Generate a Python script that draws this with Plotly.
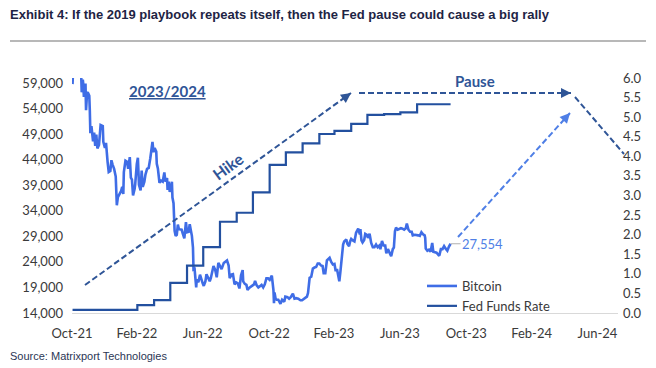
import plotly.graph_objects as go

# ---------------- data ----------------
btc_dates = [
    "2021-11-01", "2021-11-02", "2021-11-05", "2021-11-08", "2021-11-10", "2021-11-12", "2021-11-15",
    "2021-11-17", "2021-11-18", "2021-11-19", "2021-11-20", "2021-11-21", "2021-11-22", "2021-11-23",
    "2021-11-25", "2021-11-26", "2021-11-28", "2021-11-30", "2021-12-02", "2021-12-03", "2021-12-04",
    "2021-12-06", "2021-12-09", "2021-12-11", "2021-12-13", "2021-12-15", "2021-12-17", "2021-12-20",
    "2021-12-23", "2021-12-27", "2021-12-28", "2021-12-31",
    "2022-01-02", "2022-01-05", "2022-01-07", "2022-01-10", "2022-01-12", "2022-01-14", "2022-01-17",
    "2022-01-20", "2022-01-21", "2022-01-22", "2022-01-24", "2022-01-27", "2022-01-30", "2022-02-01",
    "2022-02-03", "2022-02-04", "2022-02-07", "2022-02-10", "2022-02-12", "2022-02-15", "2022-02-17",
    "2022-02-19", "2022-02-21", "2022-02-24", "2022-02-25", "2022-02-28", "2022-03-02", "2022-03-04",
    "2022-03-07", "2022-03-09", "2022-03-11", "2022-03-14", "2022-03-16", "2022-03-19", "2022-03-22",
    "2022-03-25", "2022-03-28", "2022-03-29", "2022-03-31", "2022-04-02", "2022-04-05", "2022-04-06",
    "2022-04-08", "2022-04-11", "2022-04-14", "2022-04-17", "2022-04-20", "2022-04-22", "2022-04-25",
    "2022-04-26", "2022-04-28", "2022-04-30", "2022-05-02", "2022-05-04", "2022-05-05", "2022-05-07",
    "2022-05-09", "2022-05-11", "2022-05-13", "2022-05-15", "2022-05-17", "2022-05-19", "2022-05-22",
    "2022-05-24", "2022-05-27", "2022-05-30", "2022-06-01", "2022-06-04", "2022-06-06", "2022-06-08",
    "2022-06-10", "2022-06-12", "2022-06-13", "2022-06-15", "2022-06-16", "2022-06-18", "2022-06-19",
    "2022-06-22", "2022-06-25", "2022-06-28", "2022-06-30", "2022-07-02", "2022-07-05", "2022-07-07",
    "2022-07-10", "2022-07-13", "2022-07-15", "2022-07-18", "2022-07-20", "2022-07-23", "2022-07-26",
    "2022-07-29", "2022-08-01", "2022-08-04", "2022-08-08", "2022-08-11", "2022-08-14", "2022-08-17",
    "2022-08-19", "2022-08-22", "2022-08-25", "2022-08-28", "2022-08-31", "2022-09-03", "2022-09-06",
    "2022-09-09", "2022-09-12", "2022-09-13", "2022-09-16", "2022-09-19", "2022-09-21", "2022-09-24",
    "2022-09-27", "2022-09-30", "2022-10-03", "2022-10-05", "2022-10-08", "2022-10-11", "2022-10-14",
    "2022-10-17", "2022-10-20", "2022-10-23", "2022-10-26", "2022-10-29", "2022-11-01", "2022-11-05",
    "2022-11-08", "2022-11-09", "2022-11-10", "2022-11-12", "2022-11-14", "2022-11-17", "2022-11-21",
    "2022-11-24", "2022-11-28", "2022-11-30", "2022-12-04", "2022-12-07", "2022-12-10", "2022-12-14",
    "2022-12-17", "2022-12-20", "2022-12-24", "2022-12-28", "2022-12-31",
    "2023-01-03", "2023-01-06", "2023-01-09", "2023-01-11", "2023-01-13", "2023-01-14", "2023-01-17",
    "2023-01-20", "2023-01-23", "2023-01-26", "2023-01-29", "2023-02-01", "2023-02-04", "2023-02-07",
    "2023-02-09", "2023-02-12", "2023-02-15", "2023-02-17", "2023-02-20", "2023-02-23", "2023-02-26",
    "2023-03-01", "2023-03-03", "2023-03-06", "2023-03-09", "2023-03-10", "2023-03-12", "2023-03-14",
    "2023-03-17", "2023-03-19", "2023-03-21", "2023-03-23", "2023-03-25", "2023-03-28", "2023-03-30",
    "2023-04-01", "2023-04-04", "2023-04-07", "2023-04-10", "2023-04-12", "2023-04-14", "2023-04-17",
    "2023-04-18", "2023-04-20", "2023-04-22", "2023-04-25", "2023-04-27", "2023-04-30", "2023-05-02",
    "2023-05-05", "2023-05-08", "2023-05-11", "2023-05-14", "2023-05-17", "2023-05-20", "2023-05-23",
    "2023-05-25", "2023-05-28", "2023-05-31", "2023-06-03", "2023-06-05", "2023-06-08", "2023-06-10",
    "2023-06-14", "2023-06-17", "2023-06-19", "2023-06-21", "2023-06-23", "2023-06-26", "2023-06-29",
    "2023-07-02", "2023-07-05", "2023-07-08", "2023-07-11", "2023-07-13", "2023-07-16", "2023-07-19",
    "2023-07-22", "2023-07-24", "2023-07-28", "2023-07-31", "2023-08-03", "2023-08-06", "2023-08-09",
    "2023-08-12", "2023-08-15", "2023-08-16", "2023-08-17", "2023-08-20", "2023-08-23", "2023-08-26",
    "2023-08-29", "2023-08-31", "2023-09-03", "2023-09-06", "2023-09-11", "2023-09-14", "2023-09-17",
    "2023-09-20", "2023-09-23", "2023-09-26", "2023-09-29", "2023-10-02",
]
btc_values = [
    58800, 61500, 61000, 67500, 65000, 64100, 63600,
    60600, 57200, 58100, 59700, 58700, 56300, 57500,
    58900, 53700, 57200, 57000, 56500, 53600, 49200,
    50600, 47600, 49300, 46700, 48900, 46200, 46900,
    50800, 50600, 47500, 46300,
    47300, 43500, 41600, 41800, 43900, 43100, 42200,
    40700, 36500, 35100, 36700, 37200, 37900, 38700,
    37300, 41600, 43800, 43600, 42200, 44500, 40500,
    40100, 37000, 38300, 39200, 43200, 44400, 39100,
    38000, 41900, 38700, 39700, 41100, 42200, 42400,
    44300, 47100, 47500, 45500, 46300, 45600, 43200,
    42300, 39500, 39900, 39700, 41500, 39700, 40400,
    38100, 39700, 37700, 38500, 39700, 36600, 35500,
    30100, 29100, 29300, 31300, 30400, 30300, 30300,
    29600, 28600, 31800, 29800, 29900, 31400, 30200,
    29100, 26800, 22500, 22600, 20400, 19000, 20600,
    20000, 21500, 20300, 19800, 19300, 20200, 21600,
    20800, 20200, 20800, 22400, 23200, 22500, 21000,
    23800, 23300, 22600, 23800, 24000, 24300, 23300,
    20800, 21500, 21600, 19600, 20000, 19800, 18800,
    21400, 22400, 20200, 19700, 19500, 18500, 18900,
    19100, 19400, 19600, 20300, 19400, 19000, 19200,
    19500, 19000, 19600, 20800, 20800, 20500, 21300,
    18500, 15900, 18000, 16800, 16600, 16600, 15800,
    16600, 16200, 17200, 17100, 16800, 17100, 17800,
    16800, 16900, 16800, 16500, 16500,
    16700, 16900, 17200, 17900, 19900, 20900, 21100,
    22700, 22900, 23000, 23700, 23700, 23300, 23200,
    21800, 21800, 24300, 24600, 24800, 24000, 23500,
    23600, 22400, 22400, 20400, 20200, 22100, 24200,
    27400, 28000, 28200, 28400, 27500, 27100, 28000,
    28500, 28200, 28000, 29700, 30000, 30500, 29400,
    30400, 28200, 27800, 28300, 29500, 29300, 28700,
    29500, 27700, 26900, 26900, 27400, 26900, 27200,
    26500, 28100, 27200, 27200, 25700, 26500, 25900,
    25100, 26500, 26800, 30000, 30700, 30300, 30400,
    30600, 30500, 30300, 30600, 31500, 30300, 29900,
    29900, 29200, 29300, 29300, 29200, 29100, 29800,
    29400, 29200, 28700, 26600, 26200, 26400, 26000,
    27700, 26000, 25900, 25800, 25200, 26500, 26500,
    27100, 26600, 26200, 27000, 27554,
]

fed_dates = [
    "2021-11-01", "2021-12-01", "2022-01-01", "2022-02-01", "2022-03-01", "2022-04-01",
    "2022-05-01", "2022-06-01", "2022-07-01", "2022-08-01", "2022-09-01", "2022-10-01",
    "2022-11-01", "2022-12-01", "2023-01-01", "2023-02-01", "2023-03-01", "2023-04-01",
    "2023-05-01", "2023-06-01", "2023-07-01", "2023-08-01", "2023-09-01", "2023-10-02",
]
fed_values = [
    0.08, 0.08, 0.08, 0.08, 0.20, 0.33,
    0.77, 1.21, 1.68, 2.33, 2.56, 3.08,
    3.78, 4.10, 4.33, 4.57, 4.65, 4.83,
    5.06, 5.08, 5.12, 5.33, 5.33, 5.33,
]

x_tick_dates = ["2021-10-31", "2022-02-28", "2022-06-30", "2022-10-31", "2023-02-28",
                "2023-06-30", "2023-10-31", "2024-02-29", "2024-06-30"]
x_range = ["2021-10-31", "2024-08-07"]
btc_ticks = [14000, 19000, 24000, 29000, 34000, 39000, 44000, 49000, 54000, 59000]
btc_range = [14000, 60000]
fed_ticks = [0.0, 0.5, 1.0, 1.5, 2.0, 2.5, 3.0, 3.5, 4.0, 4.5, 5.0, 5.5, 6.0]
fed_range = [0, 6]

title_text = "Exhibit 4: If the 2019 playbook repeats itself, then the Fed pause could cause a big rally"
source_text = "Source: Matrixport Technologies"

# ---------------- styling ----------------
W, H = 656, 368
L, R, T, B = 72, 618, 78, 313
BTC_COLOR = "#3f6de6"
FED_COLOR = "#23509f"
ANN_COLOR = "#2f5597"
PROJ_COLOR = "#4f7fe6"
AX_FONT = dict(family="Lato, Carlito, sans-serif", size=13, color="#3a3a3a")


def px(xp):
    return (xp - L) / (R - L)


def py(yp):
    return (B - yp) / (B - T)


fig = go.Figure()
fig.add_trace(go.Scatter(
    x=btc_dates, y=btc_values, name="Bitcoin", mode="lines",
    line=dict(color=BTC_COLOR, width=2.6), yaxis="y"))
fig.add_trace(go.Scatter(
    x=fed_dates, y=fed_values, name="Fed Funds Rate", mode="lines",
    line=dict(color=FED_COLOR, width=2.2, shape="hv"), yaxis="y2"))

shapes = []
annotations = []

# separator under the title
shapes.append(dict(type="line", xref="paper", yref="paper", x0=px(10), x1=px(646),
                   y0=py(41), y1=py(41), line=dict(color="#a0a0a0", width=1.5)))


def dashed(x0, y0, x1, y1, color, head=True):
    shapes.append(dict(type="line", xref="paper", yref="paper",
                       x0=px(x0), y0=py(y0), x1=px(x1), y1=py(y1),
                       line=dict(color=color, width=2, dash="6px,3px")))
    if head:
        dx, dy = x1 - x0, y1 - y0
        n = (dx * dx + dy * dy) ** 0.5
        k = 7.0
        annotations.append(dict(xref="paper", yref="paper", x=px(x1), y=py(y1),
                                ax=-dx / n * k, ay=-dy / n * k, text="", showarrow=True,
                                arrowhead=2, arrowsize=1, arrowwidth=2, arrowcolor=color,
                                standoff=0, startstandoff=0))


dashed(85, 285, 351, 93, ANN_COLOR)            # Hike
dashed(359, 93, 571, 93, ANN_COLOR)            # Pause
dashed(575, 97, 624, 154, ANN_COLOR, head=False)  # after pause
dashed(458, 237, 570, 113, PROJ_COLOR)         # projection

annotations += [
    dict(xref="paper", yref="paper", x=px(8), y=py(15), xanchor="left", yanchor="middle",
         text="<b>" + title_text + "</b>", showarrow=False,
         font=dict(family="Liberation Sans Narrow, Arial Narrow, Liberation Sans, sans-serif",
                   size=13, color="#1e2444")),
    dict(xref="paper", yref="paper", x=px(8), y=py(356), xanchor="left", yanchor="middle",
         text=source_text, showarrow=False,
         font=dict(family="Liberation Sans, Arial, sans-serif", size=11, color="#2b3655")),
    dict(xref="paper", yref="paper", x=px(167), y=py(91), xanchor="center", yanchor="middle",
         text="<b><u>2023/2024</u></b>", showarrow=False,
         font=dict(family="Lato, sans-serif", size=15, color=ANN_COLOR)),
    dict(xref="paper", yref="paper", x=px(227), y=py(166), xanchor="center", yanchor="middle",
         text="<b>Hike</b>", showarrow=False, textangle=-36,
         font=dict(family="Lato, sans-serif", size=16, color=ANN_COLOR)),
    dict(xref="paper", yref="paper", x=px(475), y=py(81), xanchor="center", yanchor="middle",
         text="<b>Pause</b>", showarrow=False,
         font=dict(family="Lato, sans-serif", size=15, color=ANN_COLOR)),
    dict(xref="x", yref="y", x=btc_dates[-1], y=btc_values[-1],
         text=f"{btc_values[-1]:,}", showarrow=True, arrowhead=0, arrowwidth=1,
         arrowcolor="#b0b0b0", ax=32, ay=0, standoff=0,
         font=dict(family="Lato, sans-serif", size=13, color=PROJ_COLOR)),
]

fig.update_layout(
    width=W, height=H, autosize=False,
    margin=dict(l=L, r=W - R, t=T, b=H - B, pad=0),
    paper_bgcolor="white", plot_bgcolor="white",
    shapes=shapes, annotations=annotations,
    showlegend=True,
    legend=dict(x=px(422), y=py(271), xanchor="left", yanchor="top",
                bgcolor="rgba(0,0,0,0)", font=AX_FONT, itemwidth=30,
                tracegroupgap=0),
    xaxis=dict(type="date", range=x_range, tickvals=x_tick_dates, tickformat="%b-%y",
               showgrid=False, zeroline=False, showline=True, linecolor="#d9d9d9",
               linewidth=1, ticks="", tickfont=AX_FONT, ticklabelstandoff=8),
    yaxis=dict(range=btc_range, tickvals=btc_ticks, tickformat=",", showgrid=False,
               zeroline=False, showline=False, ticks="", tickfont=AX_FONT,
               ticklabelstandoff=8),
    yaxis2=dict(range=fed_range, tickvals=fed_ticks, tickformat=".1f", overlaying="y",
                side="right", anchor="x", showgrid=False, zeroline=False, showline=False,
                ticks="", tickfont=AX_FONT, ticklabelstandoff=4),
)

fig.write_html("out.html", config={"displayModeBar": False},
               post_script="document.body.style.margin='0';document.body.style.overflow='hidden';")
